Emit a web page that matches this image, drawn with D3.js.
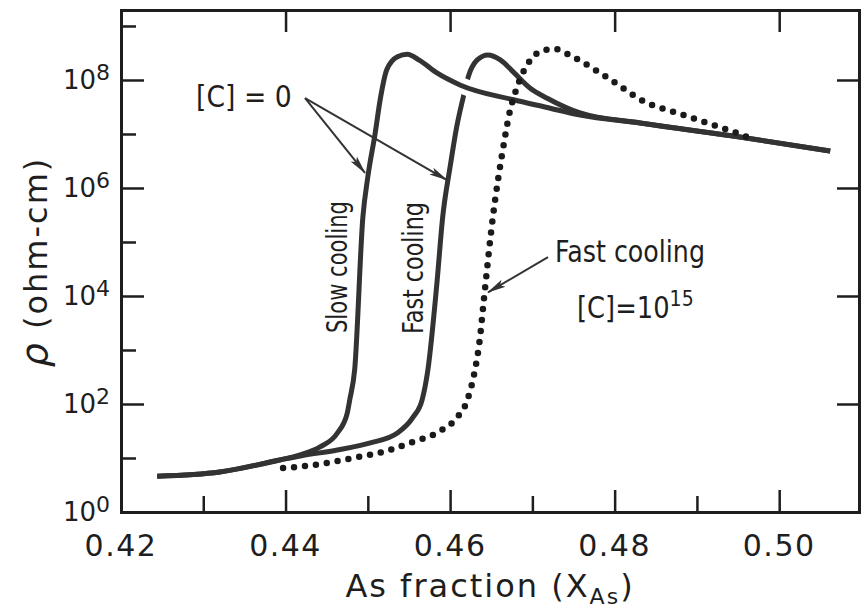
<!DOCTYPE html>
<html><head><meta charset="utf-8">
<script src="https://cdn.jsdelivr.net/npm/d3@7"></script>
<style>
html,body{margin:0;padding:0;background:#fff;}
svg{display:block;}
text{font-family:'DejaVu Sans','Liberation Sans',sans-serif;fill:#1e1e1e;}
</style></head><body>
<svg id="chart" width="862" height="610"></svg>
<script>
// ---------- data ----------
const xTickValues = [0.42, 0.44, 0.46, 0.48, 0.50];
const xTickLabels = ["0.42", "0.44", "0.46", "0.48", "0.50"];
const xMinorTicks = [0.43, 0.45, 0.47, 0.49];
const yTickValues = [1e0, 1e2, 1e4, 1e6, 1e8];
const yTickExponents = ["0", "2", "4", "6", "8"];
const yMinorTicks = [1e1, 1e3, 1e5, 1e7, 1e9];

// Slow cooling, [C] = 0
const slowX   = [0.4244, 0.4320, 0.4393, 0.4418, 0.4442, 0.4463, 0.4475, 0.4478, 0.4484, 0.4494, 0.4500, 0.4509, 0.4515, 0.4523, 0.4536, 0.4548, 0.4563, 0.4584, 0.4612, 0.4677, 0.4718, 0.4758, 0.4831, 0.4952, 0.5062];
const slowRho = [4.6, 5.5, 9.2, 11.4, 16, 29, 68, 119, 430, 2.9e5, 1.6e6, 1.05e7, 4.3e7, 1.55e8, 2.7e8, 3.0e8, 2.3e8, 1.35e8, 8.1e7, 4.3e7, 3.1e7, 2.24e7, 1.6e7, 8.8e6, 4.85e6];

// Fast cooling, [C] = 0
const fastX   = [0.4244, 0.4320, 0.4393, 0.4418, 0.4463, 0.4503, 0.4536, 0.4555, 0.4566, 0.4573, 0.4584, 0.4591, 0.4600, 0.4608, 0.4616, 0.4622, 0.4633, 0.4646, 0.4661, 0.4677, 0.4697, 0.4718, 0.4758, 0.4831, 0.4952, 0.5062];
const fastRho = [4.6, 5.5, 9.2, 10.9, 14.1, 19, 29, 57, 119, 427, 1.74e4, 2.9e5, 2.45e6, 1.35e7, 4.8e7, 1.14e8, 2.35e8, 2.9e8, 2.35e8, 1.4e8, 7.1e7, 4.6e7, 2.45e7, 1.6e7, 8.8e6, 4.85e6];

// Fast cooling, [C] = 10^15 (dotted)
const dotX   = [0.4397, 0.4442, 0.4482, 0.4523, 0.4551, 0.4588, 0.4608, 0.4621, 0.4629, 0.4636, 0.4641, 0.4652, 0.4664, 0.4673, 0.4679, 0.4689, 0.4701, 0.4715, 0.4728, 0.4740, 0.4749, 0.4794, 0.4837, 0.4876, 0.4916, 0.4952, 0.4967];
const dotRho = [6.5, 7.7, 10, 13.5, 19, 31.6, 55, 119, 344, 1530, 8430, 2.9e5, 5.0e6, 2.77e7, 5.75e7, 1.41e8, 2.7e8, 3.6e8, 3.75e8, 3.17e8, 2.7e8, 1.04e8, 3.9e7, 2.45e7, 1.53e7, 1.0e7, 8.07e6];

// ---------- setup ----------
const W = 862, H = 610;
const margin = {left: 121, top: 10, right: 3, bottom: 98};
const svg = d3.select("#chart");
const x = d3.scaleLinear().domain([0.42, 0.5097]).range([margin.left, W - margin.right]);
const y = d3.scaleLog().domain([1, Math.pow(10, 9.296)]).range([H - margin.bottom, margin.top]);
const X0 = x.range()[0], X1 = x.range()[1], Y0 = y.range()[0], Y1 = y.range()[1];
const ink = "#1e1e1e";

const defs = svg.append("defs");
defs.append("marker").attr("id", "ah").attr("markerUnits", "userSpaceOnUse")
  .attr("markerWidth", 20).attr("markerHeight", 10).attr("refX", 18).attr("refY", 5)
  .attr("orient", "auto")
  .append("path").attr("d", "M0,1 L19,5 L0,9 L4,5 Z").attr("fill", "#333");
defs.append("clipPath").attr("id", "haloClip").append("rect")
  .attr("x", x(0.4605)).attr("width", x(0.4632) - x(0.4605))
  .attr("y", Y1).attr("height", Y0 - Y1);

// ---------- axes ----------
function styleAxis(g, w) {
  g.selectAll("path.domain").attr("stroke", ink).attr("stroke-width", 3).attr("stroke-linecap", "square");
  g.selectAll(".tick line").attr("stroke", ink).attr("stroke-width", w || 2.5);
  g.selectAll("text").remove();
}
const gx = svg.append("g").attr("transform", `translate(0,${Y0})`)
  .call(d3.axisBottom(x).tickValues(xTickValues).tickSizeInner(-22).tickSizeOuter(0).tickFormat(""));
styleAxis(gx);
const gxm = svg.append("g").attr("transform", `translate(0,${Y0})`)
  .call(d3.axisBottom(x).tickValues(xMinorTicks).tickSizeInner(-16).tickSizeOuter(0).tickFormat(""));
styleAxis(gxm); gxm.select("path.domain").remove();
const gt = svg.append("g").attr("transform", `translate(0,${Y1})`)
  .call(d3.axisTop(x).tickValues(xTickValues.slice(1)).tickSizeInner(-22).tickSizeOuter(0).tickFormat(""));
styleAxis(gt);
const gy = svg.append("g").attr("transform", `translate(${X0},0)`)
  .call(d3.axisLeft(y).tickValues(yTickValues).tickSizeInner(-23).tickSizeOuter(0).tickFormat(""));
styleAxis(gy);
const gym = svg.append("g").attr("transform", `translate(${X0},0)`)
  .call(d3.axisLeft(y).tickValues(yMinorTicks).tickSizeInner(-15).tickSizeOuter(0).tickFormat(""));
styleAxis(gym); gym.select("path.domain").remove();
const gr = svg.append("g").attr("transform", `translate(${X1},0)`)
  .call(d3.axisRight(y).tickValues(yTickValues).tickSizeInner(-22).tickSizeOuter(0).tickFormat(""));
styleAxis(gr);

// x tick labels
svg.append("g").selectAll("text").data(xTickValues).join("text")
  .attr("x", d => x(d)).attr("y", Y0 + 44)
  .attr("text-anchor", "middle").attr("font-size", 30).attr("letter-spacing", 1.5)
  .text((d, i) => xTickLabels[i]);

// y tick labels 10^n
const yl = svg.append("g").selectAll("text").data(yTickValues).join("text")
  .attr("x", X0 - 11).attr("y", d => y(d) + 9)
  .attr("text-anchor", "end").attr("font-size", 26);
yl.append("tspan").text("10");
yl.append("tspan").attr("dy", -9).attr("font-size", 22).text((d, i) => yTickExponents[i]);

// axis titles
const xt = svg.append("text").attr("x", (X0 + X1) / 2).attr("y", 597)
  .attr("text-anchor", "middle").attr("font-size", 32).attr("letter-spacing", 2);
xt.append("tspan").text("As fraction (X");
xt.append("tspan").attr("font-size", 22).attr("dy", 7).text("As");
xt.append("tspan").attr("dy", -7).text(")");

const ytx = 47, yty = 262;
const ytl = svg.append("text").attr("x", ytx).attr("y", yty)
  .attr("transform", `rotate(-90,${ytx},${yty})`)
  .attr("text-anchor", "middle").attr("font-size", 32).attr("letter-spacing", 2);
ytl.append("tspan").attr("font-style", "italic").attr("font-size", 38).text("ρ");
ytl.append("tspan").text(" (ohm-cm)");

// ---------- curves ----------
const line = d3.line().x(d => x(d[0])).y(d => y(d[1])).curve(d3.curveMonotoneX);
const slow = d3.zip(slowX, slowRho), fast = d3.zip(fastX, fastRho), dots = d3.zip(dotX, dotRho);

svg.append("path").attr("d", line(fast)).attr("fill", "none")
  .attr("stroke", "#333").attr("stroke-width", 5).attr("stroke-linejoin", "round");
svg.append("path").attr("d", line(slow)).attr("fill", "none").attr("clip-path", "url(#haloClip)")
  .attr("stroke", "#fff").attr("stroke-width", 16);
svg.append("path").attr("d", line(slow)).attr("fill", "none")
  .attr("stroke", "#333").attr("stroke-width", 5).attr("stroke-linejoin", "round");
svg.append("path").attr("d", line(dots)).attr("fill", "none")
  .attr("stroke", "#1a1a1a").attr("stroke-width", 6.5).attr("stroke-linecap", "round")
  .attr("stroke-dasharray", "0 11");

// ---------- annotations ----------
const arrows = [
  {from: [0.44237, 4.6e7], to: [0.44966, 1.9e6]},
  {from: [0.44237, 4.6e7], to: [0.45963, 1.4e6]},
  {from: [0.47190, 5.25e4], to: [0.46461, 1.17e4]}
];
svg.append("g").selectAll("line").data(arrows).join("line")
  .attr("x1", d => x(d.from[0])).attr("y1", d => y(d.from[1]))
  .attr("x2", d => x(d.to[0])).attr("y2", d => y(d.to[1]))
  .attr("stroke", "#333").attr("stroke-width", 2).attr("marker-end", "url(#ah)");

// [C] = 0
const c0x = x(0.42912), c0y = y(3.16e7);
svg.append("text").attr("x", 0).attr("y", 0).attr("font-size", 31)
  .attr("transform", `translate(${c0x},${c0y}) scale(0.86,1)`)
  .text("[C] = 0");

// rotated labels
[{t: "Slow cooling", p: [0.44747, 3.44e4]}, {t: "Fast cooling", p: [0.45671, 3.3e4]}].forEach(o => {
  const px = x(o.p[0]), py = y(o.p[1]);
  svg.append("text").attr("x", px).attr("y", py)
    .attr("transform", `rotate(-90,${px},${py})`)
    .attr("text-anchor", "middle").attr("font-size", 28)
    .attr("textLength", 132).attr("lengthAdjust", "spacingAndGlyphs").text(o.t);
});

// Fast cooling [C] = 10^15
svg.append("text").attr("x", x(0.47275)).attr("y", y(4.26e4))
  .attr("font-size", 30).attr("textLength", 150).attr("lengthAdjust", "spacingAndGlyphs")
  .text("Fast cooling");
const c15x = x(0.47543), c15y = y(3.9e3);
const c15 = svg.append("text").attr("x", 0).attr("y", 0).attr("font-size", 30)
  .attr("transform", `translate(${c15x},${c15y}) scale(0.86,1)`);
c15.append("tspan").text("[C]=10");
c15.append("tspan").attr("dy", -12).attr("font-size", 22).text("15");
</script>
</body></html>
